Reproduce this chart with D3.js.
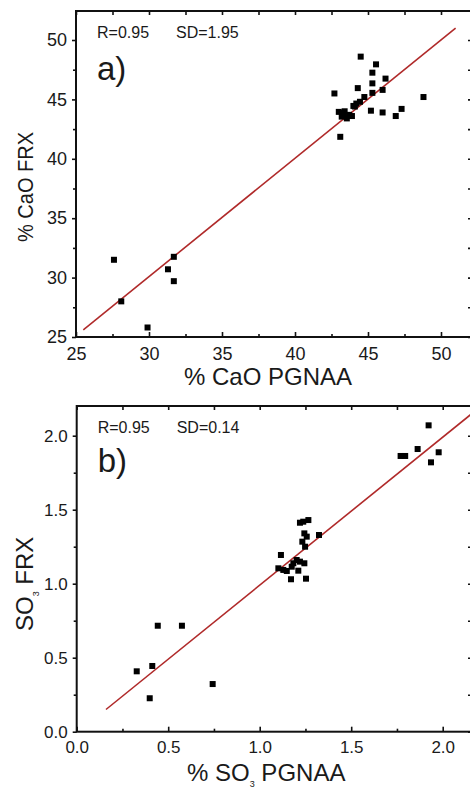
<!DOCTYPE html>
<html>
<head>
<meta charset="utf-8">
<script src="https://cdn.jsdelivr.net/npm/d3@7"></script>
<style>
  body { margin: 0; background: #fff; }
  svg { display: block; }
  .axis path, .axis line { stroke: #111; }
  text { font-family: "Liberation Sans", Arial, sans-serif; fill: #1a1a1a; }
</style>
</head>
<body>
<div id="chart"></div>
<script>
// panel a) CaO
const caoPgnaa = [27.6, 31.7, 31.3, 31.7, 28.1, 29.9,
    44.5, 45.55, 45.3, 46.2, 45.3, 44.3, 46.0, 45.3, 42.7, 44.75, 48.8, 44.45, 44.2, 44.1, 44.0,
    45.2, 46.0, 47.3, 46.9, 43.0, 43.3, 43.2, 43.55, 43.9, 43.1, 43.4, 43.7];
const caoFrx = [31.5, 31.75, 30.7, 29.7, 28.0, 25.8,
    48.6, 47.95, 47.25, 46.75, 46.35, 45.95, 45.8, 45.55, 45.5, 45.2, 45.2, 44.8, 44.65, 44.4, 44.45,
    44.05, 43.9, 44.2, 43.6, 43.95, 43.85, 43.55, 43.4, 43.6, 41.85, 44.0, 43.7];
const caoFitX = [25.5, 51.0];
const caoFitY = [25.6, 51.0];
const caoTicks = [25, 30, 35, 40, 45, 50];
const caoMinor = [27.5, 32.5, 37.5, 42.5, 47.5];

// panel b) SO3
const so3Pgnaa = [0.443, 0.575, 0.328, 0.413, 0.743, 0.399,
    1.923, 1.77, 1.795, 1.863, 1.978, 1.936,
    1.238, 1.266, 1.22, 1.244, 1.257, 1.324, 1.233, 1.248, 1.116, 1.202, 1.22, 1.244,
    1.102, 1.129, 1.148, 1.175, 1.184, 1.211, 1.171, 1.253];
const so3Frx = [0.716, 0.716, 0.408, 0.444, 0.322, 0.226,
    2.07, 1.863, 1.863, 1.91, 1.888, 1.82,
    1.419, 1.43, 1.412, 1.34, 1.318, 1.329, 1.284, 1.25, 1.194, 1.16, 1.149, 1.138,
    1.104, 1.093, 1.086, 1.115, 1.138, 1.088, 1.03, 1.034];
const so3FitX = [0.16, 2.16];
const so3FitY = [0.15, 2.15];
const so3Ticks = [0.0, 0.5, 1.0, 1.5, 2.0];
const so3Minor = [0.25, 0.75, 1.25, 1.75];

const width = 470;
const height = 789;

const svg = d3.select("#chart")
    .append("svg")
    .attr("width", width)
    .attr("height", height);

function drawPanel(cfg) {
    let x = d3.scaleLinear().domain(cfg.xDomain).range([cfg.left, cfg.right]);
    let y = d3.scaleLinear().domain(cfg.yDomain).range([cfg.bottom, cfg.top]);
    let g = svg.append("g");

    // frame
    g.append("rect")
        .attr("x", cfg.left).attr("y", cfg.top)
        .attr("width", cfg.right - cfg.left).attr("height", cfg.bottom - cfg.top)
        .attr("fill", "none").attr("stroke", "#111").attr("stroke-width", 2);

    // left axis, ticks outward
    g.append("g").attr("class", "axis")
        .attr("transform", "translate(" + cfg.left + ",0)")
        .call(d3.axisLeft(y).tickValues(cfg.yTicks).tickFormat(cfg.fmt).tickSize(4).tickPadding(5).tickSizeOuter(0))
        .call(a => a.select(".domain").remove())
        .call(a => a.selectAll("text").attr("font-size", cfg.tickFont).attr("font-family", null));
    g.append("g").attr("class", "axis")
        .attr("transform", "translate(" + cfg.left + ",0)")
        .call(d3.axisLeft(y).tickValues(cfg.yMinor).tickFormat("").tickSize(3))
        .call(a => a.select(".domain").remove());

    // bottom axis, ticks inward
    g.append("g").attr("class", "axis")
        .attr("transform", "translate(0," + cfg.bottom + ")")
        .call(d3.axisBottom(x).tickValues(cfg.xTicks).tickFormat(cfg.fmt).tickSize(-5).tickPadding(cfg.xPad).tickSizeOuter(0))
        .call(a => a.select(".domain").remove())
        .call(a => a.selectAll("text").attr("font-size", cfg.tickFont).attr("font-family", null));
    g.append("g").attr("class", "axis")
        .attr("transform", "translate(0," + cfg.bottom + ")")
        .call(d3.axisBottom(x).tickValues(cfg.xMinor).tickFormat("").tickSize(-3))
        .call(a => a.select(".domain").remove());

    // top and right ticks, inward
    g.append("g").attr("class", "axis")
        .attr("transform", "translate(0," + cfg.top + ")")
        .call(d3.axisTop(x).tickValues(cfg.xTicks.concat(cfg.xMinor)).tickFormat("").tickSize(-4))
        .call(a => a.select(".domain").remove());
    g.append("g").attr("class", "axis")
        .attr("transform", "translate(" + cfg.right + ",0)")
        .call(d3.axisRight(y).tickValues(cfg.yTicks.concat(cfg.yMinor)).tickFormat("").tickSize(-4))
        .call(a => a.select(".domain").remove());

    g.selectAll(".axis line").attr("stroke-width", 1.6);

    // fit line
    g.append("line")
        .attr("x1", x(cfg.fitX[0])).attr("y1", y(cfg.fitY[0]))
        .attr("x2", x(cfg.fitX[1])).attr("y2", y(cfg.fitY[1]))
        .attr("stroke", "#b02a2a").attr("stroke-width", 1.6);

    // points
    let s = 6;
    g.selectAll(".pt")
        .data(cfg.xs.map((v, i) => [v, cfg.ys[i]]))
        .join("rect")
        .attr("class", "pt")
        .attr("x", d => x(d[0]) - s / 2)
        .attr("y", d => y(d[1]) - s / 2)
        .attr("width", s).attr("height", s)
        .attr("fill", "#000");

    // annotations
    g.append("text").attr("x", cfg.left + 21).attr("y", cfg.top + 27)
        .attr("font-size", 16).text("R=0.95");
    g.append("text").attr("x", cfg.left + 100).attr("y", cfg.top + 27)
        .attr("font-size", 16).text(cfg.sd);
    g.append("text").attr("x", cfg.left + 21).attr("y", cfg.top + cfg.tagDy)
        .attr("font-size", 33).text(cfg.tag);

    return { x, y, g };
}

// panel a
let pa = drawPanel({
    left: 76, right: 472, top: 11, bottom: 337,
    xDomain: [25, 25 + (472 - 76) / 14.6], yDomain: [25, 25 + (337 - 11) / 11.88],
    xTicks: caoTicks, xMinor: caoMinor, yTicks: caoTicks, yMinor: caoMinor,
    fmt: d3.format("d"), tickFont: 18, xPad: 10,
    xs: caoPgnaa, ys: caoFrx, fitX: caoFitX, fitY: caoFitY,
    sd: "SD=1.95", tag: "a)", tagDy: 69
});
svg.append("text")
    .attr("x", 268).attr("y", 385)
    .attr("text-anchor", "middle").attr("font-size", 24)
    .text("% CaO PGNAA");
svg.append("text")
    .attr("transform", "translate(33,242) rotate(-90)")
    .attr("font-size", 22).attr("textLength", 110).attr("lengthAdjust", "spacingAndGlyphs")
    .text("% CaO FRX");

// panel b
let pb = drawPanel({
    left: 76.7, right: 472, top: 406, bottom: 731.7,
    xDomain: [0, (472 - 76.7) / 183], yDomain: [0, (731.7 - 406) / 148],
    xTicks: so3Ticks, xMinor: so3Minor, yTicks: so3Ticks, yMinor: so3Minor,
    fmt: d3.format(".1f"), tickFont: 17, xPad: 9,
    xs: so3Pgnaa, ys: so3Frx, fitX: so3FitX, fitY: so3FitY,
    sd: "SD=0.14", tag: "b)", tagDy: 66
});

let xt = svg.append("text")
    .attr("x", 187).attr("y", 781)
    .attr("font-size", 24);
xt.append("tspan").text("% SO");
xt.append("tspan").attr("font-size", 9).attr("dy", 6).text("3");
xt.append("tspan").attr("dy", -6).text(" PGNAA");

let yt = svg.append("text")
    .attr("transform", "translate(33,631) rotate(-90)")
    .attr("font-size", 24);
yt.append("tspan").text("SO");
yt.append("tspan").attr("font-size", 9).attr("dy", 6).text("3");
yt.append("tspan").attr("dy", -6).text(" FRX");
</script>
</body>
</html>
